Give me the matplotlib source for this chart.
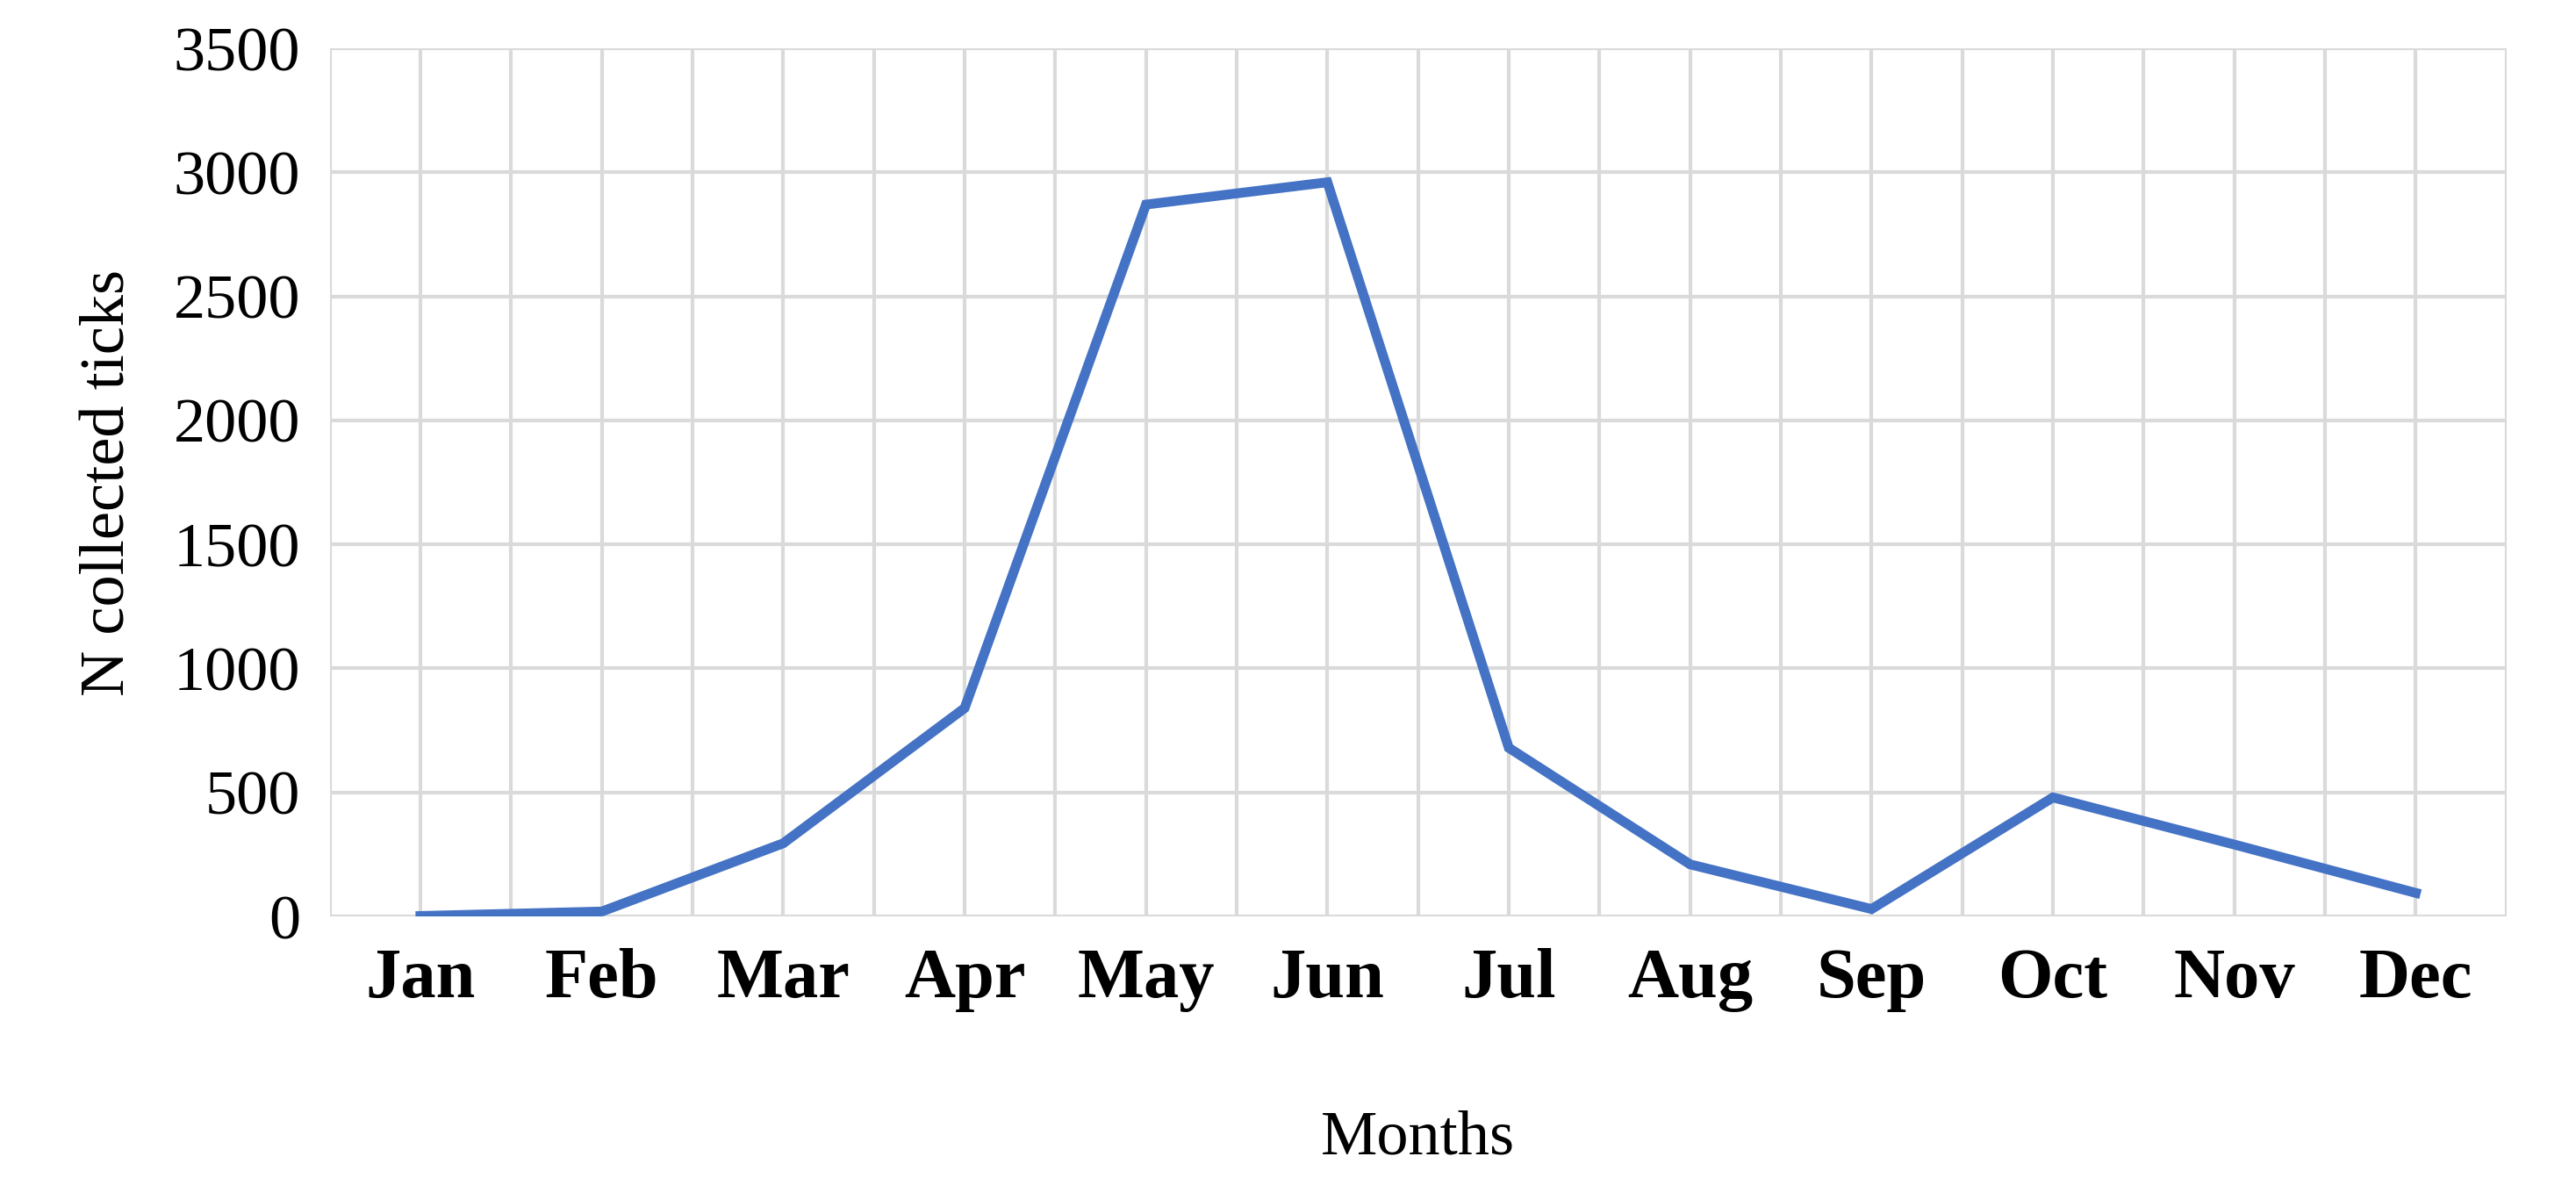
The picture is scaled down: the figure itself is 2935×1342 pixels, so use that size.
import matplotlib.pyplot as plt
import numpy as np

months = ["Jan", "Feb", "Mar", "Apr", "May", "Jun", "Jul", "Aug", "Sep", "Oct", "Nov", "Dec"]
ticks = [2, 20, 295, 840, 2870, 2960, 680, 210, 30, 480, 290, 95]

plt.rcParams["font.family"] = ["Liberation Serif", "DejaVu Serif"]
plt.rcParams["hatch.color"] = "#b4b4b4"
plt.rcParams["hatch.linewidth"] = 1.5

fig = plt.figure(figsize=(29.35, 13.42), dpi=100)
ax = fig.add_axes([0.128, 0.222, 0.845, 0.737])
ax.patch.set_facecolor("white")
ax.patch.set_hatch("\\\\\\\\")

x = np.arange(len(months))
ax.set_xlim(-0.5, len(months) - 0.5)
ax.set_ylim(0, 3500)
for xv in np.arange(-0.5, len(months) - 0.4, 0.5):
    ax.axvline(xv, color="#dadada", lw=3, zorder=1)
for yv in range(0, 3501, 500):
    ax.axhline(yv, color="#dadada", lw=3, zorder=1)

ax.plot(x, ticks, color="#4472c4", lw=8, solid_joinstyle="miter", zorder=3)

ax.set_xticks(x)
ax.set_xticklabels(months, fontsize=58, fontweight="bold")
ax.set_yticks(range(0, 3501, 500))
ax.tick_params(axis="y", labelsize=52, length=0, pad=24)
ax.tick_params(axis="x", length=0, pad=26)
for s in ax.spines.values():
    s.set_visible(False)
ax.set_xlabel("Months", fontsize=52, labelpad=80)
ax.set_ylabel("N collected ticks", fontsize=52, labelpad=30)

fig.savefig("out.png", dpi=100)
